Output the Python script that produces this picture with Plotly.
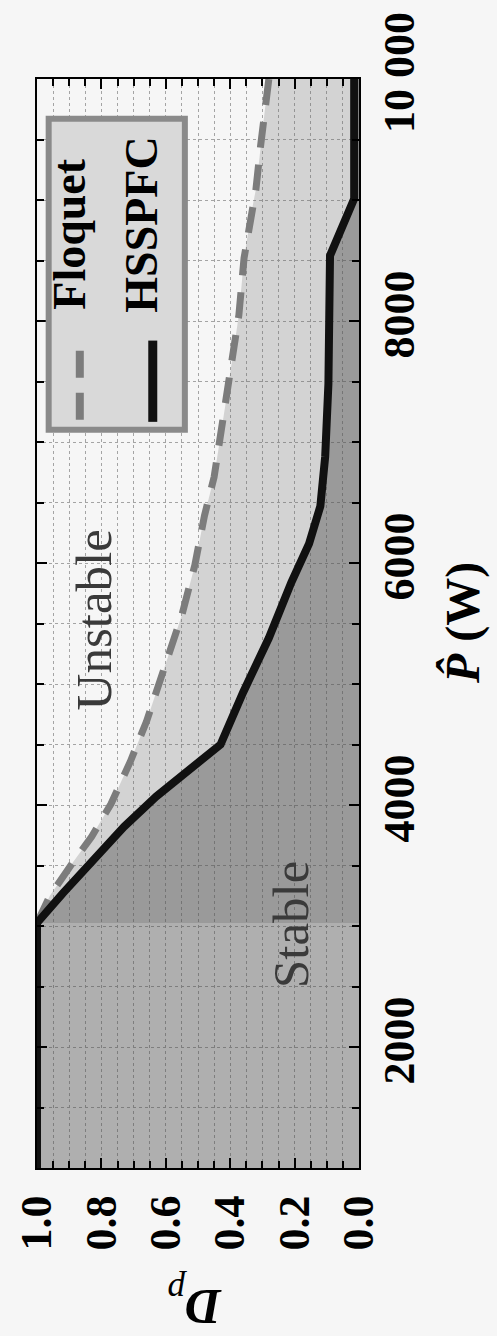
import plotly.graph_objects as go

# HSSPFC stability boundary: duty ratio limit vs. peak power
hss_power = [1000, 3025, 3270, 3570, 3820, 4070, 4280, 4500, 4930, 5380,
             5840, 6160, 6470, 6880, 7480, 8100, 8540, 9010, 10000]
hss_dp = [1.0, 1.0, 0.92, 0.82, 0.73, 0.63, 0.535, 0.43, 0.36, 0.28,
          0.21, 0.155, 0.12, 0.105, 0.095, 0.09, 0.09, 0.015, 0.015]

# Floquet stability boundary
floq_power = [3025, 3250, 3520, 3740, 4010, 4360, 4690, 5260, 5570, 5980,
              6390, 6710, 7040, 7390, 7750, 8050, 8520, 8870, 9090, 9440,
              9800, 10000]
floq_dp = [1.0, 0.96, 0.89, 0.83, 0.77, 0.71, 0.66, 0.59, 0.55, 0.51,
           0.48, 0.45, 0.43, 0.41, 0.39, 0.373, 0.357, 0.336, 0.32, 0.306,
           0.29, 0.28]

dp_ticks = [0.0, 0.2, 0.4, 0.6, 0.8, 1.0]
dp_ticktext = ["0.0", "0.2", "0.4", "0.6", "0.8", "1.0"]
power_ticks = [2000, 4000, 6000, 8000, 10000]
power_ticktext = ["2000", "4000", "6000", "8000", "10 000"]

series_names = ["Floquet", "HSSPFC"]
region_labels = ["Unstable", "Stable"]

W, H = 497, 1336
ML, MR, MT, MB = 28, 138, 69, 168
PW, PH = W - ML - MR, H - MT - MB


def px(x):
    return (x - ML) / PW


def py(y):
    return (H - MB - y) / PH


SERIF = "Liberation Serif"
GRID = "#a4a4a4"
fig = go.Figure()

# shaded regions (semi-transparent so the dotted grid shows through)
fig.add_trace(go.Scatter(x=floq_dp, y=floq_power, mode="lines", fill="tozerox",
                         fillcolor="rgba(100,100,100,0.24)", line=dict(width=0),
                         hoverinfo="skip", showlegend=False))
fig.add_trace(go.Scatter(x=hss_dp, y=hss_power, mode="lines", fill="tozerox",
                         fillcolor="rgba(70,70,70,0.40)", line=dict(width=0),
                         hoverinfo="skip", showlegend=False))

# boundary curves
fig.add_trace(go.Scatter(x=floq_dp, y=floq_power, mode="lines", name=series_names[0],
                         line=dict(color="#7c7c7c", width=7, dash="26px,17px"),
                         showlegend=False))
fig.add_trace(go.Scatter(x=hss_dp, y=hss_power, mode="lines", name=series_names[1],
                         line=dict(color="#111111", width=8),
                         showlegend=False))

tickfont = dict(family=SERIF, size=44, color="black", weight="bold")
grid_common = dict(showgrid=True, gridcolor=GRID, gridwidth=1, griddash="dot")

fig.update_xaxes(
    range=[1.0, 0.0], tickmode="array", tickvals=dp_ticks, ticktext=dp_ticktext,
    tickangle=-90, tickfont=tickfont, ticks="inside", ticklen=10, tickwidth=1.5,
    tickcolor="black", showline=True, linecolor="black", linewidth=2,
    mirror="allticks", zeroline=False, ticklabelstandoff=8,
    minor=dict(tickmode="linear", tick0=0, dtick=0.05, ticks="inside", ticklen=7,
               tickcolor="black", showgrid=True, gridcolor=GRID, griddash="dot",
               gridwidth=1),
    **grid_common,
)
fig.update_yaxes(
    range=[1000, 10000], side="right", tickmode="array", tickvals=power_ticks,
    ticktext=power_ticktext, tickangle=-90, tickfont=tickfont, ticks="inside",
    ticklen=10, tickwidth=1.5, tickcolor="black", showline=True, linecolor="black",
    linewidth=2, mirror="allticks", zeroline=False, ticklabelstandoff=0,
    minor=dict(tickmode="linear", tick0=1000, dtick=500, ticks="inside", ticklen=7,
               tickcolor="black", showgrid=True, gridcolor=GRID, griddash="dot",
               gridwidth=1),
    **grid_common,
)

# legend box drawn by hand so it can be turned with the rest of the chart
fig.add_shape(type="rect", xref="paper", yref="paper",
              x0=px(40), x1=px(180), y0=py(109), y1=py(423),
              line=dict(color="#8a8a8a", width=6), fillcolor="#d9d9d9", layer="above")
fig.add_shape(type="line", xref="paper", yref="paper",
              x0=px(72), x1=px(72), y0=py(413), y1=py(340),
              line=dict(color="#7c7c7c", width=8, dash="27px,15px"), layer="above")
fig.add_shape(type="line", xref="paper", yref="paper",
              x0=px(147), x1=px(147), y0=py(415), y1=py(333),
              line=dict(color="#111111", width=9), layer="above")

legend_font = dict(family=SERIF, size=46, color="black", weight="bold")
fig.add_annotation(text=series_names[0], xref="paper", yref="paper",
                   x=px(61), y=py(226), xanchor="center", yanchor="middle",
                   textangle=-90, showarrow=False, font=legend_font)
fig.add_annotation(text=series_names[1], xref="paper", yref="paper",
                   x=px(136), y=py(216), xanchor="center", yanchor="middle",
                   textangle=-90, showarrow=False, font=legend_font)

# region labels
region_font = dict(family=SERIF, size=51, color="#3a3a3a")
fig.add_annotation(text=region_labels[0], xref="paper", yref="paper",
                   x=px(87), y=py(615), xanchor="center", yanchor="middle",
                   textangle=-90, showarrow=False, font=region_font)
fig.add_annotation(text=region_labels[1], xref="paper", yref="paper",
                   x=px(289), y=py(922), xanchor="center", yanchor="middle",
                   textangle=-90, showarrow=False, font=region_font)

# axis titles
fig.add_annotation(text="<b><i>P\u0302</i> (W)</b>", xref="paper", yref="paper",
                   x=px(466), y=py(618), xanchor="center", yanchor="middle",
                   textangle=-90, showarrow=False,
                   font=dict(family=SERIF, size=48, color="black"))
fig.add_annotation(text="<b><i>D</i></b><sub><i>p</i></sub>", xref="paper", yref="paper",
                   x=px(190), y=py(1304), xanchor="center", yanchor="middle",
                   textangle=180, showarrow=False,
                   font=dict(family=SERIF, size=50, color="black"))

fig.update_layout(
    width=W, height=H,
    margin=dict(l=ML, r=MR, t=MT, b=MB, pad=0),
    paper_bgcolor="#f6f6f6", plot_bgcolor="#f6f6f6",
    showlegend=False,
)

fig.write_html("out.html")
